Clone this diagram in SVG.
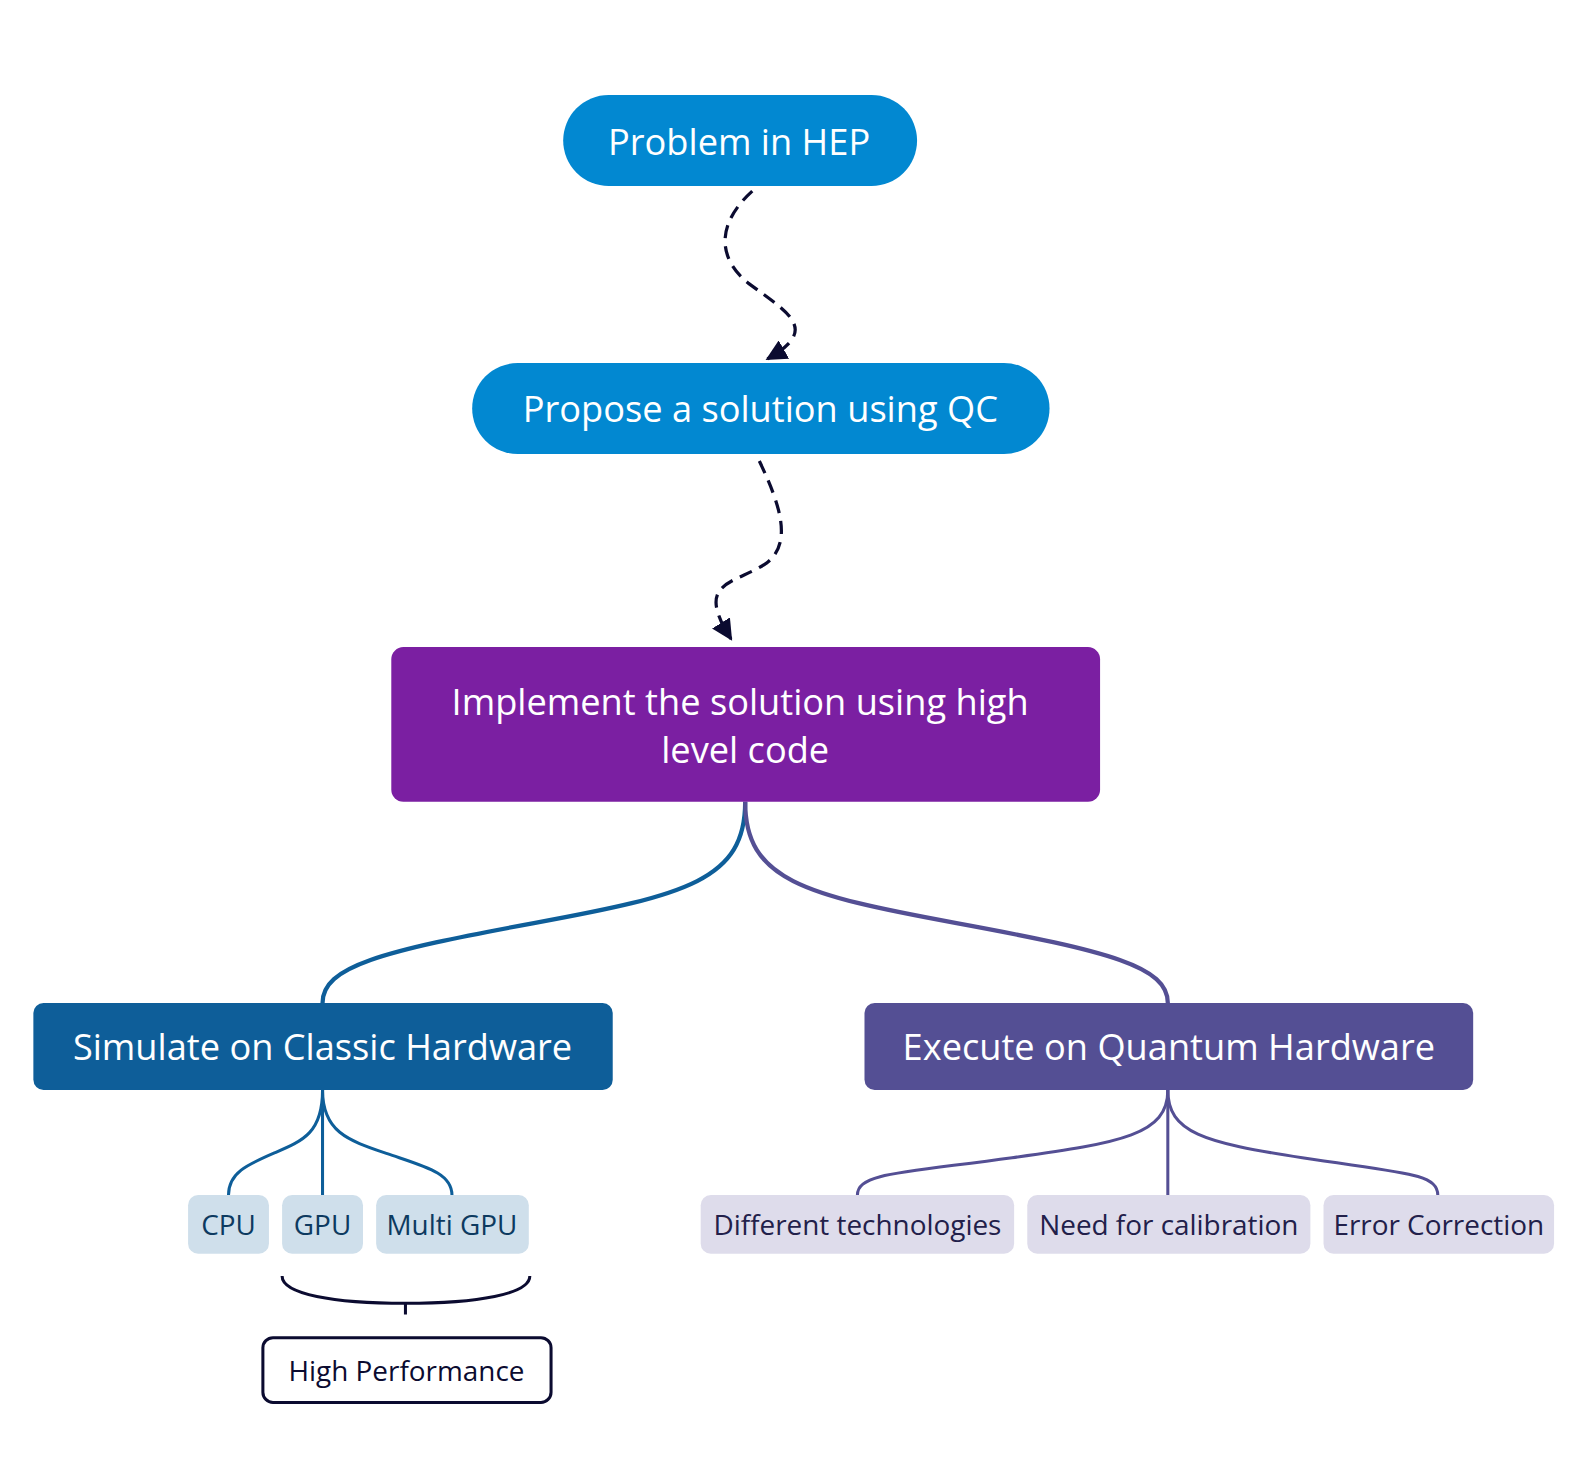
<svg xmlns="http://www.w3.org/2000/svg" width="1585" height="1470" viewBox="0 0 1585 1470">
<style>
text{font-family:"Open Sans","Lato","Liberation Sans",sans-serif;text-anchor:middle;dominant-baseline:central}
.big{font-size:35.8px;fill:#ffffff}
.sm{font-size:27.6px}
.dash{fill:none;stroke:#0B0B30;stroke-width:3.2;stroke-dasharray:13 8}
.cb{fill:none;stroke:#0E5E99}
.cp{fill:none;stroke:#544F94}
</style>
<defs>
<marker id="ah" viewBox="0 0 10 10" refX="9" refY="5" markerWidth="6.5" markerHeight="6.5" orient="auto" markerUnits="strokeWidth">
<path d="M0,0 L10,5 L0,10 z" fill="#0B0B30"/>
</marker>
</defs>
<rect width="1585" height="1470" fill="#ffffff"/>
<g transform="scale(1.0111)">
<g id="connectors">
<path class="dash" d="M744,189 C712,218 706,252 740,280 C782,311 810,326 759,355" marker-end="url(#ah)"/>
<path class="dash" d="M751,456 C772,500 784,537 758,557 C733,574 700,575 710,606 C713,616 718,624 723,632" marker-end="url(#ah)"/>
<path class="cb" stroke-width="4.2" d="M737,793 C737,870 680,885 528,913 C376,941 319,956 319,992"/>
<path class="cp" stroke-width="4.2" d="M737,793 C737,870 794,885 946,913 C1098,941 1155,956 1155,992"/>
<path class="cb" stroke-width="3" d="M319,1078 C319,1120 300,1128 272,1140 C244,1152 226,1160 226,1182"/>
<path class="cb" stroke-width="3" d="M319,1078 L319,1182"/>
<path class="cb" stroke-width="3" d="M319,1078 C319,1120 345,1128 383,1141 C421,1154 447,1160 447,1182"/>
<path class="cp" stroke-width="3" d="M1155,1078 C1155,1122 1110,1130 1001,1145 C892,1160 848,1160 848,1182"/>
<path class="cp" stroke-width="3" d="M1155,1078 L1155,1182"/>
<path class="cp" stroke-width="3" d="M1155,1078 C1155,1120 1190,1130 1288,1145 C1386,1160 1422,1160 1422,1182"/>
<path d="M279,1262 C279,1280 330,1289 401,1289 C472,1289 524,1280 524,1262 M401,1289 L401,1300" fill="none" stroke="#0B0B30" stroke-width="3"/>
</g>
<g id="n1">
<rect x="557" y="94" width="350" height="90" rx="45" fill="#0288D1"/>
<text class="big" x="731" y="139">Problem in HEP</text>
</g>
<g id="n2">
<rect x="467" y="359" width="571" height="90" rx="45" fill="#0288D1"/>
<text class="big" x="752" y="404">Propose a solution using QC</text>
</g>
<g id="n3">
<rect x="387" y="640" width="701" height="153" rx="12" fill="#7B1FA2"/>
<text class="big" x="732" y="693">Implement the solution using high</text>
<text class="big" x="737" y="741">level code</text>
</g>
<g id="n4">
<rect x="33" y="992" width="573" height="86" rx="10" fill="#0E5E99"/>
<text class="big" x="319" y="1035">Simulate on Classic Hardware</text>
</g>
<g id="n5">
<rect x="855" y="992" width="602" height="86" rx="10" fill="#544F94"/>
<text class="big" x="1156" y="1035">Execute on Quantum Hardware</text>
</g>
<g id="n6">
<rect x="186" y="1182" width="80" height="58" rx="10" fill="#CFDFEB"/>
<text class="sm" x="226" y="1211" fill="#0D3A60">CPU</text>
</g>
<g id="n7">
<rect x="279" y="1182" width="80" height="58" rx="10" fill="#CFDFEB"/>
<text class="sm" x="319" y="1211" fill="#0D3A60">GPU</text>
</g>
<g id="n8">
<rect x="372" y="1182" width="151" height="58" rx="10" fill="#CFDFEB"/>
<text class="sm" x="447" y="1211" fill="#0D3A60">Multi GPU</text>
</g>
<g id="n9">
<rect x="693" y="1182" width="310" height="58" rx="10" fill="#DEDCEB"/>
<text class="sm" x="848" y="1211" fill="#22204A">Different technologies</text>
</g>
<g id="n10">
<rect x="1016" y="1182" width="280" height="58" rx="10" fill="#DEDCEB"/>
<text class="sm" x="1156" y="1211" fill="#22204A">Need for calibration</text>
</g>
<g id="n11">
<rect x="1309" y="1182" width="228" height="58" rx="10" fill="#DEDCEB"/>
<text class="sm" x="1423" y="1211" fill="#22204A">Error Correction</text>
</g>
<g id="n12">
<rect x="260" y="1323" width="285" height="64" rx="10" fill="#ffffff" stroke="#0B0B30" stroke-width="3"/>
<text class="sm" x="402" y="1355" fill="#0B0B30">High Performance</text>
</g>
</g>
</svg>
